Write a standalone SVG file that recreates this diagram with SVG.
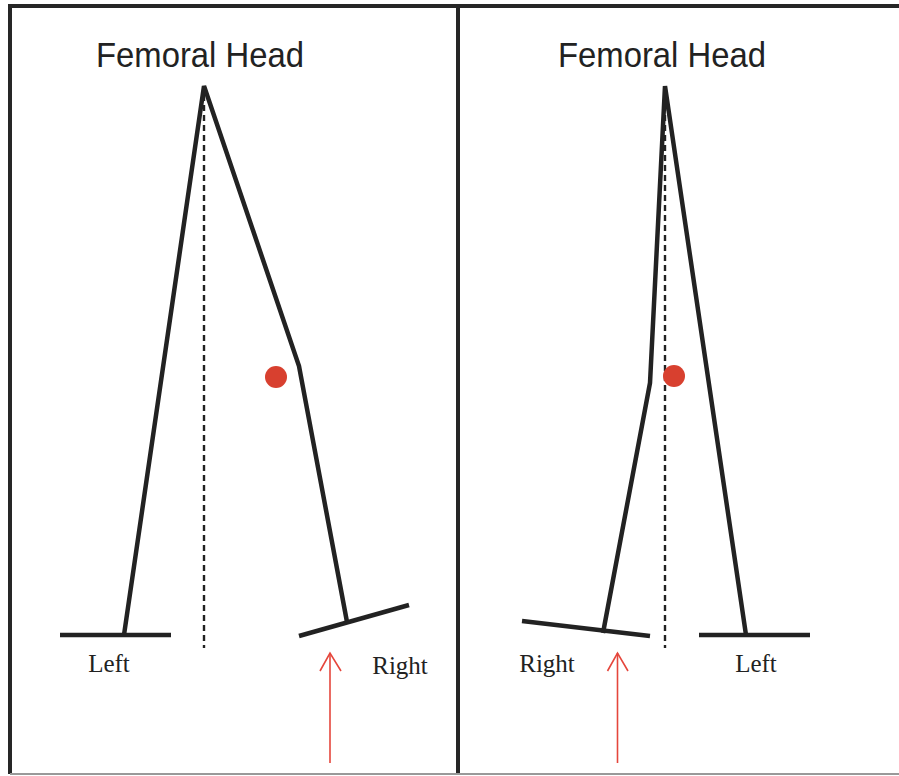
<svg xmlns="http://www.w3.org/2000/svg" width="899" height="776" viewBox="0 0 899 776">
<style>
.frame{stroke:#262626;stroke-width:4;fill:none}
.bone{stroke:#222;stroke-width:4.5;fill:none;stroke-linejoin:miter;stroke-linecap:butt}
.dash{stroke:#222;stroke-width:2.4;stroke-dasharray:6 4;fill:none}
.dot{fill:#d8402f}
.arrow{stroke:#e5463c;stroke-width:1.6;fill:none}
.title{font-family:"Liberation Sans",Arial,sans-serif;font-size:35px;fill:#222;text-anchor:middle}
.lbl{font-family:"Liberation Serif","Times New Roman",serif;font-size:25px;fill:#222;text-anchor:middle}
</style>
<rect width="899" height="776" fill="#fff"/>
<g id="frame">
<line class="frame" x1="8" y1="6" x2="899" y2="6"/>
<line class="frame" x1="10" y1="4" x2="10" y2="774"/>
<line class="frame" x1="458" y1="6" x2="458" y2="774"/>
<line x1="10" y1="774" x2="899" y2="774" stroke="#999" stroke-width="2"/>
</g>
<g id="left-panel">
<text class="title" x="200" y="67" textLength="208" lengthAdjust="spacingAndGlyphs">Femoral Head</text>
<line class="dash" x1="204" y1="95" x2="204" y2="648"/>
<polyline class="bone" points="124,635 204,86 299,366 347,622"/>
<line class="bone" x1="60" y1="635" x2="171" y2="635"/>
<line class="bone" x1="299" y1="636" x2="409" y2="605"/>
<circle class="dot" cx="276" cy="377" r="11"/>
<text class="lbl" x="109" y="672">Left</text>
<text class="lbl" x="400" y="674">Right</text>
<g class="arrow"><line x1="330" y1="763" x2="330" y2="653"/><polyline points="320,671 330,653 341,671"/></g>
</g>
<g id="right-panel">
<text class="title" x="662" y="67" textLength="208" lengthAdjust="spacingAndGlyphs">Femoral Head</text>
<line class="dash" x1="665" y1="95" x2="665" y2="648"/>
<polyline class="bone" points="603,633 650,383 665,86 746,635"/>
<line class="bone" x1="699" y1="635" x2="810" y2="635"/>
<line class="bone" x1="522" y1="621" x2="650" y2="636"/>
<circle class="dot" cx="674" cy="376" r="11"/>
<text class="lbl" x="547" y="672">Right</text>
<text class="lbl" x="756" y="672">Left</text>
<g class="arrow"><line x1="617.5" y1="763" x2="617.5" y2="653"/><polyline points="607.5,671 617.5,653 628,671"/></g>
</g>
</svg>
